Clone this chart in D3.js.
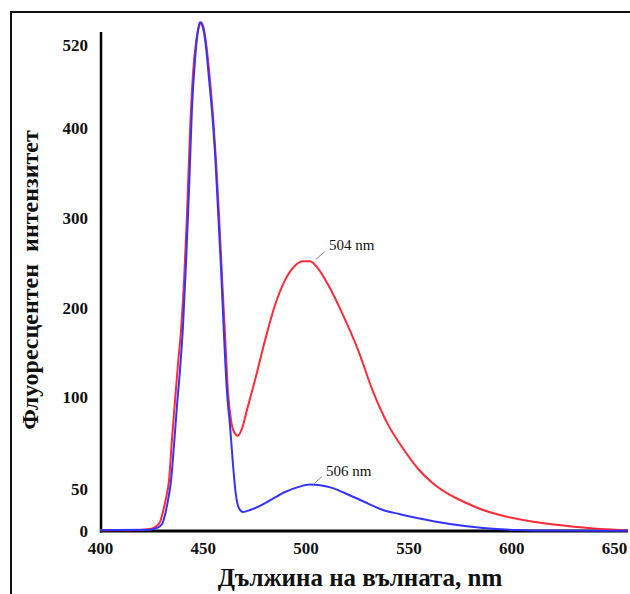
<!DOCTYPE html>
<html>
<head>
<meta charset="utf-8">
<script src="https://cdn.jsdelivr.net/npm/d3@7"></script>
<style>
  body { margin: 0; background: #fff; }
  svg { display: block; }
  .tick text { font-family: "Liberation Serif", "Times New Roman", serif; font-weight: bold; fill: #111; }
</style>
</head>
<body>
<div id="chart"></div>
<script>
// wavelength (nm) and intensity
const redWl = [400, 414.6, 424.3, 426.8, 429.2, 430.6, 432.1, 433.6, 435, 436.5, 437.9, 439.4, 440.9, 442.3, 443.8, 445.2, 446.7, 448.2, 449.1,
  450.6, 452, 453.5, 455, 456.4, 457.9, 459.3, 460.8, 462.3, 463.7, 465.2, 467.1, 469.1, 471.5, 475.4, 480.3, 485.1, 490, 494.8, 498.7,
  502.1, 506, 510.9, 518.2, 525.5, 532.8, 540.1, 547.4, 554.7, 562, 570.2, 578.5, 586.3, 594.6, 610.6, 627.1, 643.2, 656.8];
const redVal = [1, 1, 2.4, 4.8, 10.7, 22.6, 39, 55, 77, 98, 136, 175, 231, 303, 397, 477, 524, 547, 553,
  542, 513, 469, 416, 364, 303, 237, 170, 104, 87.5, 81, 79, 83, 93, 119, 164, 203, 231, 247, 252,
  252, 244, 226, 192, 153, 106, 85, 72, 61, 53, 43, 33, 25, 19, 11, 6, 2.4, 1];

const blueWl = [400, 424.3, 427.7, 430.2, 431.6, 433.1, 434.5, 436, 437.5, 438.9, 440.4, 441.8, 443.3, 444.7, 446.2, 447.7, 448.6,
  450.1, 451.6, 453, 454.5, 456, 457.4, 458.9, 460.3, 461.8, 463.2, 464.7, 466.1, 467.6, 469.6, 473, 477.8, 483.7, 490, 496.3,
  502.1, 507, 513.3, 520.1, 527.4, 537.6, 545.9, 554.2, 570.2, 586.3, 602.8, 623.7, 656.8];
const blueVal = [1, 1.5, 3.6, 8.3, 19, 37, 54, 74, 96, 130, 181, 248, 331, 426, 498, 542, 553,
  545, 516, 472, 423, 370, 309, 242, 170, 104, 85, 63, 43, 27, 22.6, 25, 30, 38, 46.4, 51,
  52.4, 52, 50.5, 44, 36, 25, 20, 15.5, 8.3, 3.6, 1.2, 0.5, 0.3];

const xTicks = [400, 450, 500, 550, 600, 650];
const yTicks = [0, 50, 100, 200, 300, 400, 520];

const peakLabels = ["504 nm", "506 nm"];
const peakWl = [505, 503.6];
const peakVal = [254, 52.4];

const xTitle = "Дължина на вълната, nm";
const yTitle = "Флуоресцентен  интензитет";

const width = 630, height = 594;

const svg = d3.select("#chart").append("svg")
  .attr("width", width)
  .attr("height", height);

// outer frame (only left and top edges visible)
svg.append("path")
  .attr("d", "M11,594V12H630")
  .attr("fill", "none")
  .attr("stroke", "#111")
  .attr("stroke-width", 2);

const x = d3.scaleLinear().domain([400, 650]).range([100, 614]);
// the printed axis is not evenly spaced, so map label to label
const y = d3.scaleLinear()
  .domain(yTicks)
  .range([531, 489, 397, 308, 218, 128, 45]);

const serif = "'Liberation Serif', 'Times New Roman', serif";

// axes
const gx = svg.append("g")
  .attr("transform", "translate(0," + y(0) + ")")
  .call(d3.axisBottom(x).tickValues(xTicks).tickSize(0).tickPadding(11));
gx.select(".domain").remove();
gx.selectAll("text").attr("font-size", 17).attr("font-family", serif);

const gy = svg.append("g")
  .attr("transform", "translate(" + (x(400) - 12) + ",0)")
  .call(d3.axisLeft(y).tickValues(yTicks).tickSize(0).tickPadding(0));
gy.select(".domain").remove();
gy.selectAll("text").attr("font-size", 17).attr("font-family", serif);

svg.append("line")
  .attr("x1", x(400) + 1).attr("x2", x(400) + 1)
  .attr("y1", 32).attr("y2", y(0) + 1.5)
  .attr("stroke", "#000").attr("stroke-width", 2.5);
svg.append("line")
  .attr("x1", x(400)).attr("x2", 628)
  .attr("y1", y(0)).attr("y2", y(0))
  .attr("stroke", "#000").attr("stroke-width", 3);

// curves
const line = d3.line()
  .x(d => x(d[0]))
  .y(d => y(d[1]))
  .curve(d3.curveMonotoneX);

svg.append("path")
  .datum(d3.zip(redWl, redVal))
  .attr("d", line)
  .attr("fill", "none")
  .attr("stroke", "#ff2a36")
  .attr("stroke-width", 2);

svg.append("path")
  .datum(d3.zip(blueWl, blueVal))
  .attr("d", line)
  .attr("fill", "none")
  .attr("stroke", "#3333ff")
  .attr("stroke-width", 2);

// peak annotations
peakLabels.forEach((lab, i) => {
  const px = x(peakWl[i]), py = y(peakVal[i]);
  svg.append("line")
    .attr("x1", px).attr("y1", py)
    .attr("x2", px + 9).attr("y2", py - 8)
    .attr("stroke", "#888").attr("stroke-width", 1);
  svg.append("text")
    .attr("x", px + 13).attr("y", py - 9)
    .attr("font-family", serif)
    .attr("font-size", 15)
    .attr("fill", "#111")
    .text(lab);
});

// titles
svg.append("text")
  .attr("x", 360).attr("y", 586)
  .attr("text-anchor", "middle")
  .attr("font-family", serif)
  .attr("font-weight", "bold")
  .attr("font-size", 25)
  .attr("fill", "#111")
  .text(xTitle);

svg.append("text")
  .attr("transform", "translate(38,280) rotate(-90)")
  .attr("text-anchor", "middle")
  .attr("font-family", serif)
  .attr("font-weight", "bold")
  .attr("font-size", 24)
  .attr("fill", "#111")
  .style("white-space", "pre")
  .text(yTitle);
</script>
</body>
</html>
